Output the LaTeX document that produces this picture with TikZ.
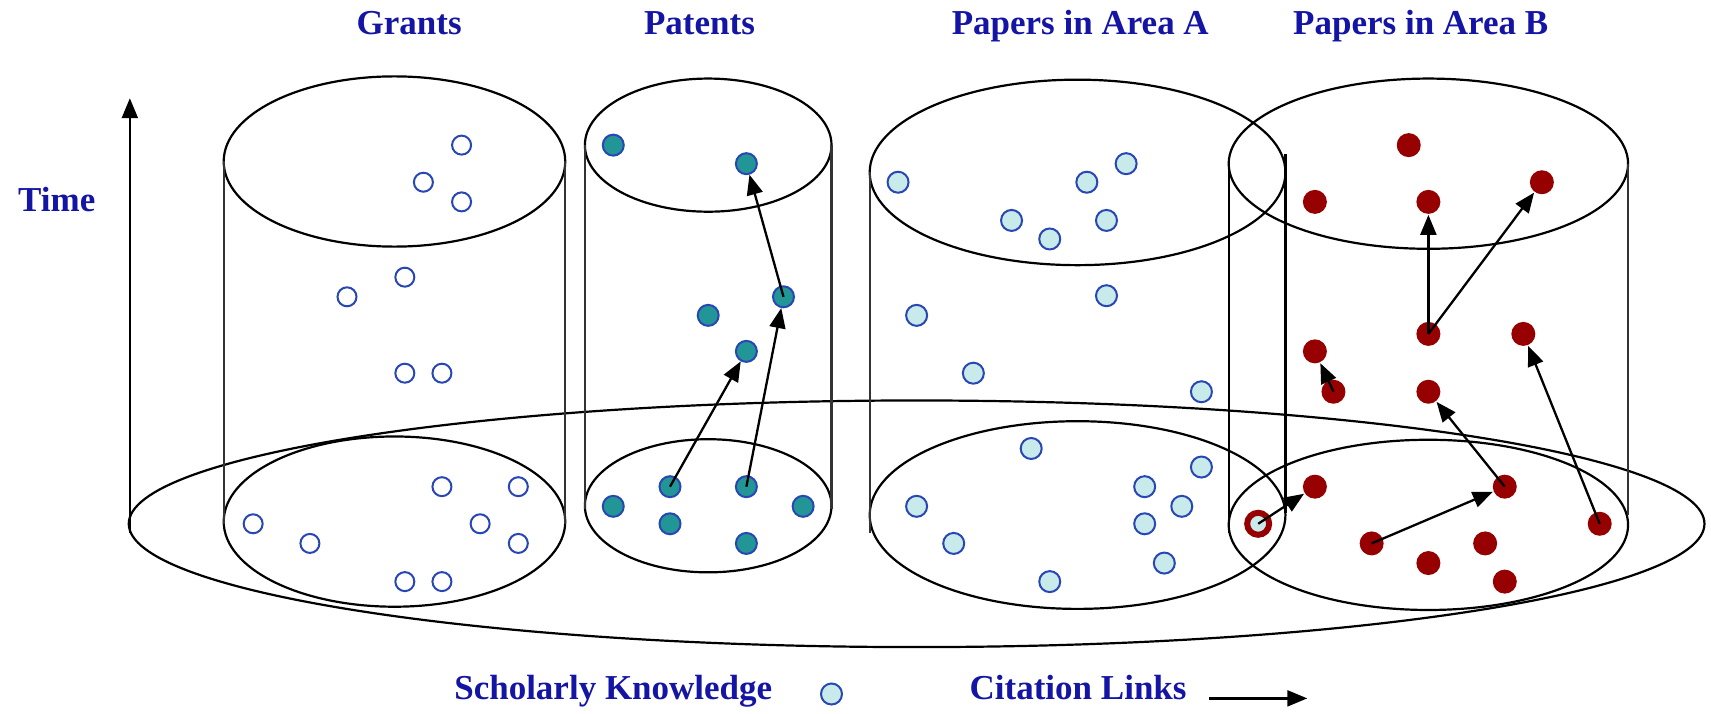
\documentclass[tikz,border=0pt]{standalone}
\usepackage{fontspec}
\setmainfont{Liberation Serif}
\usetikzlibrary{arrows.meta}
\definecolor{txtblue}{RGB}{20,20,165}
\definecolor{dotblue}{RGB}{40,70,180}
\definecolor{teal2}{RGB}{34,150,150}
\definecolor{lcyan}{RGB}{200,234,234}
\definecolor{dred}{RGB}{150,0,0}
\tikzset{
  outline/.style={draw=black, line width=2.2pt},
  side/.style={draw=black!80, line width=2.2pt},
  dotbase/.style={circle, inner sep=0pt, line width=2pt},
  gdot/.style={dotbase, draw=dotblue, fill=white, minimum size=19pt},
  pdot/.style={dotbase, draw=dotblue, fill=teal2, minimum size=21pt},
  adot/.style={dotbase, draw=dotblue, fill=lcyan, minimum size=21pt},
  bdot/.style={dotbase, fill=dred, minimum size=24pt},
  ringdot/.style={dotbase, draw=dred, line width=6pt, fill=lcyan, minimum size=22pt},
  link/.style={draw=black, line width=2.3pt, -{Triangle[length=20pt,width=16pt]}},
  lbl/.style={text=txtblue, font=\fontsize{35}{40}\selectfont\bfseries, anchor=base, inner sep=0pt},
}
\begin{document}
\begin{tikzpicture}[x=1.0912pt, y=-1.0912pt]
\useasboundingbox (0,0) rectangle (1568,654);
% titles
\node[lbl] (tG) at (375,32) {Grants};
\node[lbl] (tP) at (641,32) {Patents};
\node[lbl] (tA) at (990,32) {Papers in Area A};
\node[lbl] (tB) at (1302,32) {Papers in Area B};
\node[lbl] (tT) at (52,194) {Time};
% time axis
\coordinate (t0) at (119,488);
\coordinate (t1) at (119,90);
\draw[link, line width=2.2pt] (t0) -- (t1);
% big base ellipse
\draw[outline] (840,480) ellipse [x radius=722, y radius=113];
% Grants cylinder
\draw[outline] (361.5,148) ellipse [x radius=156.5, y radius=78];
\draw[outline] (361.5,478) ellipse [x radius=156.5, y radius=78];
\draw[side] (205,148) -- (205,480);
\draw[side] (518,148) -- (518,480);
% Patents cylinder
\draw[outline] (649,133) ellipse [x radius=113, y radius=61];
\draw[outline] (649,463.5) ellipse [x radius=113, y radius=61];
\draw[side] (536,133) -- (536,466);
\draw[side] (762,133) -- (762,466);
% Area A cylinder
\draw[outline] (987.5,158) ellipse [x radius=190.5, y radius=85];
\draw[outline] (987.5,472) ellipse [x radius=190.5, y radius=86];
\draw[side] (797,158) -- (797,488);
\draw[side, draw=black] (1178,141) -- (1178,470);
% Area B cylinder
\draw[outline] (1309,150) ellipse [x radius=183, y radius=78];
\draw[outline] (1309,481) ellipse [x radius=183, y radius=78];
\draw[side, draw=black] (1126,150) -- (1126,488);
\draw[side] (1492,150) -- (1492,472);
% Grants dots
\foreach \n/\x/\y in {g1/423/133, g2/388/167, g3/423/185, g4/371/254, g5/318/272,
  g6/371/342, g7/405/342, g8/405/446, g9/475/446, g10/232/480, g11/440/480,
  g12/284/498, g13/475/498, g14/371/533, g15/405/533}
  \node[gdot] (\n) at (\x,\y) {};
% Patents dots
\foreach \n/\x/\y in {p1/562/133, p2/684/150, p3/718/272, p4/649/289, p5/684/322,
  p6/614/446, p7/684/446, p8/562/464, p9/736/464, p10/614/480, p11/684/498}
  \node[pdot] (\n) at (\x,\y) {};
% Area A dots
\foreach \n/\x/\y in {a1/823/167, a2/996/167, a3/1032/150, a4/927/202, a5/962/219,
  a6/1014/202, a7/1014/271, a8/840/289, a9/892/342, a10/1101/359, a11/945/411,
  a12/1101/428, a13/1049/446, a14/840/464, a15/1083/464, a16/1049/480,
  a17/874/498, a18/1067/516, a19/962/533}
  \node[adot] (\n) at (\x,\y) {};
% Area B dots
\foreach \n/\x/\y in {b1/1291/133, b2/1205/185, b3/1309/185, b4/1413/167, b5/1309/306,
  b6/1396/306, b7/1205/322, b8/1222/359, b9/1309/359, b10/1205/446, b11/1379/446,
  b12/1466/480, b13/1257/498, b14/1361/498, b15/1309/516, b16/1379/533}
  \node[bdot] (\n) at (\x,\y) {};
\node[ringdot] (r1) at (1153,480) {};
% citation links
\draw[link] (p6.center) -- (p5);
\draw[link] (p7.center) -- (p3);
\draw[link] (p3.center) -- (p2);
\draw[link] (b5.center) -- (b3);
\draw[link] (b5.center) -- (b4);
\draw[link] (b8.center) -- (b7);
\draw[link] (b11.center) -- (b9);
\draw[link] (b13.center) -- (b11);
\draw[link] (b12.center) -- (b6);
\draw[link] (r1.center) -- (b10);
% legend
\node[lbl] (lk) at (562,641) {Scholarly Knowledge};
\node[adot] (ld) at (762,636) {};
\node[lbl] (lc) at (988,641) {Citation Links};
\coordinate (la0) at (1108,640);
\coordinate (la1) at (1198,640);
\draw[link] (la0) -- (la1);
\end{tikzpicture}
\end{document}
